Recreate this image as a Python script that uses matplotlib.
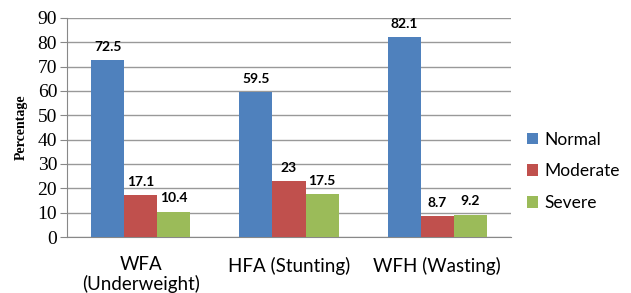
import numpy as np
import matplotlib.pyplot as plt

categories = ['WFA\n(Underweight)', 'HFA (Stunting)', 'WFH (Wasting)']
series = ['Normal', 'Moderate', 'Severe']
normal = [72.5, 59.5, 82.1]
moderate = [17.1, 23, 8.7]
severe = [10.4, 17.5, 9.2]
labels = [['72.5', '59.5', '82.1'], ['17.1', '23', '8.7'], ['10.4', '17.5', '9.2']]
yticks = [0, 10, 20, 30, 40, 50, 60, 70, 80, 90]

colors = ['#4F81BD', '#C0504D', '#9BBB59']
sans = ['Lato', 'DejaVu Sans']
serif = ['Liberation Serif', 'DejaVu Serif']

fig = plt.figure(figsize=(6.31, 2.93), dpi=100)
ax = fig.add_axes([0.106, 0.191, 0.704, 0.748])

x = np.arange(len(categories))
w = 0.223
for i, (vals, name) in enumerate(zip([normal, moderate, severe], series)):
    pos = x + (i - 1) * w
    ax.bar(pos, vals, width=w, color=colors[i], label=name, zorder=3)
    for px, v, t in zip(pos, vals, labels[i]):
        ax.text(px, v + 3, t, ha='center', va='bottom', fontsize=10,
                fontweight='bold', family=sans, color='black')

ax.set_xlim(-0.5, 2.5)
ax.set_ylim(0, 90)
ax.set_yticks(yticks)
ax.set_yticklabels([str(t) for t in yticks], family=serif, fontsize=14)
ax.set_xticks(x)
ax.set_xticklabels(categories, family=sans, fontsize=13.5, linespacing=1.1)
ax.tick_params(axis='x', length=0, pad=14)
ax.tick_params(axis='y', length=5, color='#888888', pad=2)
ax.grid(axis='y', color='#999999', linewidth=1, zorder=0)
for s in ['top', 'right']:
    ax.spines[s].set_visible(False)
ax.spines['left'].set_color('#888888')
ax.spines['bottom'].set_color('#888888')
ax.set_ylabel('Percentage', family=serif, fontsize=10, fontweight='bold', labelpad=7)

leg = ax.legend(loc='center left', bbox_to_anchor=(1.0, 0.3), frameon=False,
                prop={'family': sans, 'size': 12.5}, handlelength=0.65,
                handleheight=0.65, handletextpad=0.35, labelspacing=0.9)

fig.savefig('out.png', dpi=100)
